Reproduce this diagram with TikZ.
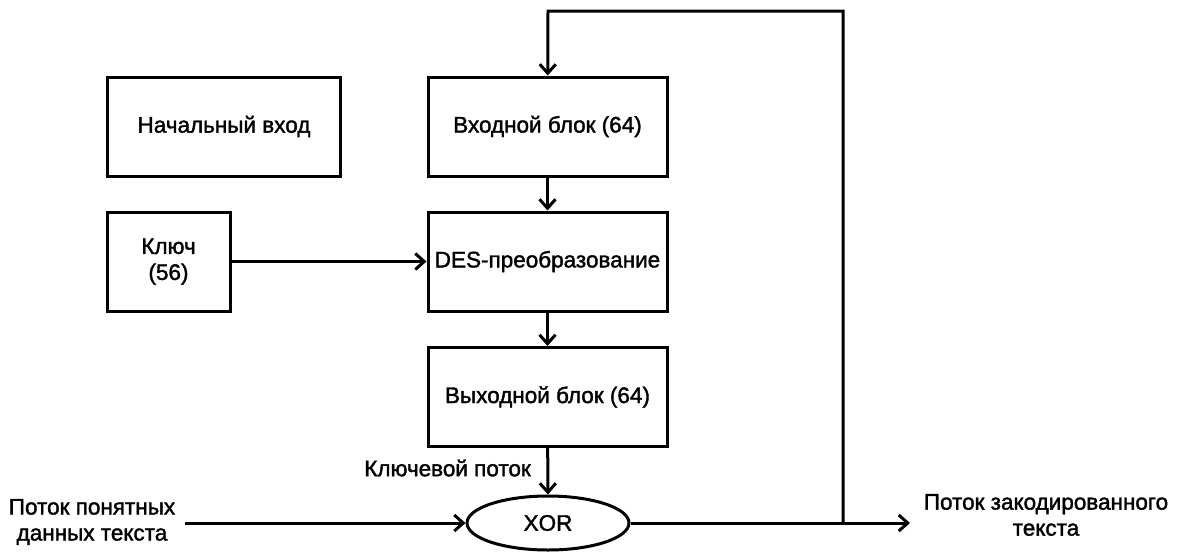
\documentclass[tikz,border=0pt]{standalone}
\usepackage{fontspec}
\setmainfont[FakeBold=1.6]{Liberation Sans}
\usetikzlibrary{arrows.meta,shapes.geometric}
\begin{document}
\begin{tikzpicture}[x=1pt,y=-1pt,
  box/.style={draw,line width=3pt,minimum width=239pt,minimum height=99pt,inner sep=0pt,align=center,font=\fontsize{22.5}{26}\selectfont},
  conn/.style={line width=3pt,-{Straight Barb[length=9pt,width=16pt,line width=3pt]}},
  lbl/.style={font=\fontsize{22.5}{26}\selectfont,inner sep=0pt,align=center}]
\useasboundingbox (0,0) rectangle (1177,554);
\node[box,minimum width=233pt] (init) at (224,126.5) {Начальный вход};
\node[box] (inb) at (547.5,126.5) {Входной блок (64)};
\node[box,minimum width=123pt] (key) at (168.5,261.5) {Ключ\\(56)};
\node[box] (des) at (547.5,261.5) {DES-преобразование};
\node[box] (outb) at (547.5,397) {Выходной блок (64)};
\node[draw,line width=3pt,ellipse,minimum width=162pt,minimum height=54pt,inner sep=0pt,font=\fontsize{22.5}{26}\selectfont] (xor) at (548,523) {XOR};
\node[lbl] (plain) at (92,522) {Поток понятных\\данных текста};
\node[lbl] (cipher) at (1046,515) {Поток закодированного\\текста};
\node[lbl,anchor=east] (ks) at (531,468) {Ключевой поток};
\coordinate (plainend) at (185,523);
\coordinate (split) at (843,523);
\coordinate (topR) at (843,11);
\coordinate (topL) at (548,11);
\coordinate (outend) at (910,523);
\draw[conn] (inb) -- (des);
\draw[conn] (des) -- (outb);
\draw[conn] (outb) -- (xor);
\draw[conn] (key) -- (des);
\draw[conn] (plainend) -- (xor);
\draw[line width=3pt] (xor) -- (split);
\draw[conn] (split) -- (outend);
\draw[conn] (split) -- (topR) -- (topL) -- (inb);
\end{tikzpicture}
\end{document}
